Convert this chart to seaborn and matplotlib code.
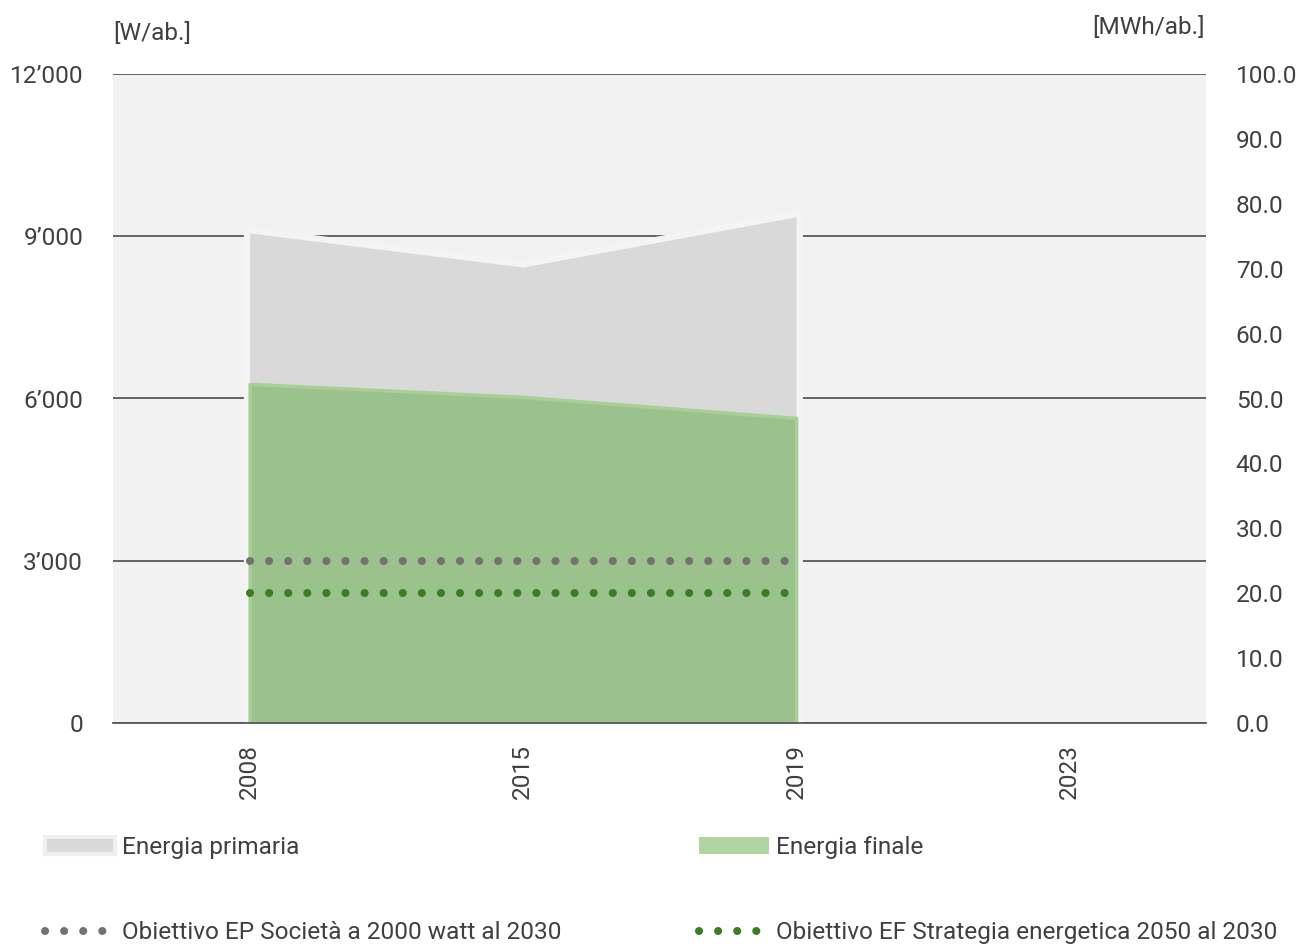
import matplotlib.pyplot as plt
import numpy as np
import pandas as pd
import seaborn as sns
from matplotlib.patches import Patch
from matplotlib.lines import Line2D

# values
years = ['2008', '2015', '2019', '2023']
primaria = [9060, 8430, 9360, np.nan]
finale = [6270, 6030, 5640, np.nan]
target_years = ['2008', '2019']
target_ep = [3000, 3000]
target_ef = [2400, 2400]
left_ticks = [0, 3000, 6000, 9000, 12000]
left_labels = ['0', '3’000', '6’000', '9’000', '12’000']
right_ticks = [0, 10, 20, 30, 40, 50, 60, 70, 80, 90, 100]

sns.set_theme(style='white')
plt.rcParams['font.family'] = ['Roboto', 'DejaVu Sans']
txt = '#404040'
fs = 17.6

df = pd.DataFrame({'anno': years, 'primaria': primaria, 'finale': finale})
df['x'] = np.arange(len(df))
tg = pd.DataFrame({'x': [years.index(y) for y in target_years], 'ep': target_ep, 'ef': target_ef})

fig = plt.figure(figsize=(12.98, 9.46), dpi=100)
ax = fig.add_axes([113/1298, 1-723/946, (1206-113)/1298, (723-74)/946])
ax.set_facecolor('#f2f2f2')

# primary energy area; a background-coloured halo masks the grid next to it
ax.fill_between(df.x, 0, df.primaria, color='#d9d9d9', edgecolor='#f4f4f4', lw=9, zorder=2)
ax.fill_between(df.x, 0, df.primaria, color='#d9d9d9', lw=0, zorder=2.1)
ax.fill_between(df.x, 0, df.finale, color='#9bc18c', edgecolor='#a8d096', lw=2.5, zorder=3)

dots = (0, (0.01, 2.36))
sns.lineplot(data=tg, x='x', y='ep', ax=ax, color='#767171', lw=5.8, linestyle=dots,
             dash_capstyle='round', zorder=4)
sns.lineplot(data=tg, x='x', y='ef', ax=ax, color='#3b7d23', lw=5.8, linestyle=dots,
             dash_capstyle='round', zorder=4)

ax.set_xlim(-0.5, len(years) - 0.5)
ax.set_ylim(0, 12000)
ax.set_yticks(left_ticks)
ax.set_yticklabels(left_labels)
ax.set_xticks(df.x)
ax.set_xticklabels(years, rotation=90)
ax.set_xlabel('')
ax.set_ylabel('')
ax.yaxis.grid(True, color='#595959', lw=1.3)
ax.set_axisbelow(True)
for s in ['top', 'left', 'right']:
    ax.spines[s].set_visible(False)
ax.spines['bottom'].set_color('#595959')
ax.spines['bottom'].set_linewidth(1.3)
ax.spines['bottom'].set_zorder(5)
ax.tick_params(axis='y', length=0, pad=21.5, labelsize=fs, labelcolor=txt)
ax.tick_params(axis='x', length=0, pad=15, labelsize=fs, labelcolor=txt)

ax2 = ax.twinx()
ax2.set_ylim(0, 100)
ax2.set_yticks(right_ticks)
ax2.set_yticklabels([f'{v:.1f}' for v in right_ticks])
ax2.tick_params(axis='y', length=0, pad=21.5, labelsize=fs, labelcolor=txt)
ax2.grid(False)
for s in ax2.spines.values():
    s.set_visible(False)

fig.text(113/1298, 1-33/946, '[W/ab.]', fontsize=fs, color=txt, ha='left', va='center')
fig.text(1205/1298, 1-28/946, '[MWh/ab.]', fontsize=fs, color=txt, ha='right', va='center')

h_prim = Patch(facecolor='#d9d9d9', edgecolor='#efefef', lw=3)
h_fin = Patch(facecolor='#afd5a1', edgecolor='none')
h_ep = Line2D([], [], color='#767171', lw=5.8, linestyle=dots, dash_capstyle='round')
h_ef = Line2D([], [], color='#3b7d23', lw=5.8, linestyle=dots, dash_capstyle='round')

kw = dict(loc='upper left', frameon=False, fontsize=fs, labelcolor=txt, borderpad=0,
          borderaxespad=0, handlelength=2.85, handletextpad=0.3, labelspacing=2.55)
fig.legend([h_prim, h_ep], ['Energia primaria', 'Obiettivo EP Società a 2000 watt al 2030'],
           bbox_to_anchor=(45/1298, 1-836/946), **kw)
fig.legend([h_fin, h_ef], ['Energia finale', 'Obiettivo EF Strategia energetica 2050 al 2030'],
           bbox_to_anchor=(699/1298, 1-836/946), **kw)

fig.savefig('out.png', dpi=100, facecolor='white')
